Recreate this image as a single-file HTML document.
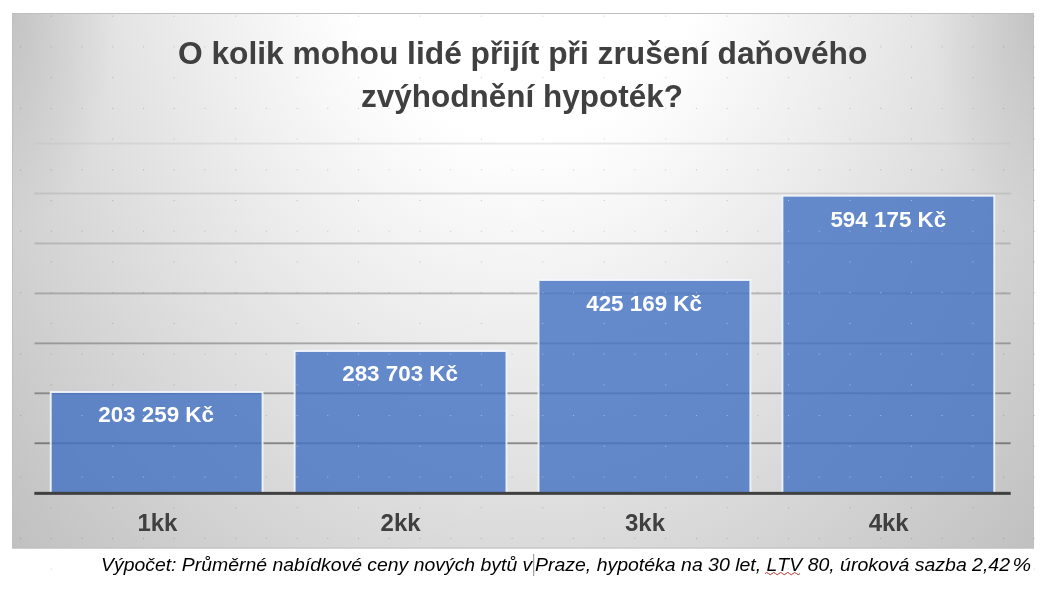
<!DOCTYPE html>
<html lang="cs">
<head>
<meta charset="utf-8">
<title>O kolik mohou lidé přijít při zrušení daňového zvýhodnění hypoték?</title>
<style>
  html, body { margin: 0; padding: 0; background: #ffffff; }
  body { width: 1042px; height: 592px; overflow: hidden; position: relative;
         font-family: "Liberation Sans", sans-serif; }
  svg { position: absolute; left: 0; top: 0; display: block; will-change: transform; }
  .title { font-family: "Liberation Sans", sans-serif; font-weight: bold; font-size: 30.5px; fill: #404040; }
  .dl    { font-family: "Liberation Sans", sans-serif; font-weight: bold; font-size: 22.4px; fill: #ffffff; }
  .cat   { font-family: "Liberation Sans", sans-serif; font-weight: bold; font-size: 24px; fill: #404040; }
  .cap   { font-family: "Liberation Sans", sans-serif; font-style: italic; font-size: 19.2px; fill: #000000; font-kerning: none; }
</style>
</head>
<body>
<svg width="1042" height="592" viewBox="0 0 1042 592">
  <defs>
    <radialGradient id="bg" gradientUnits="userSpaceOnUse" cx="0" cy="0" r="1"
        gradientTransform="translate(523 -129.7) scale(812.4 1105.3)">
      <stop offset="0" stop-color="#ffffff"/>
      <stop offset="0.242" stop-color="#ffffff"/>
      <stop offset="1" stop-color="#b4b4b4"/>
    </radialGradient>
    <radialGradient id="cornerL" gradientUnits="userSpaceOnUse" cx="0" cy="0" r="1"
        gradientTransform="translate(12 13) scale(105 215)">
      <stop offset="0" stop-color="#000000" stop-opacity="0.095"/>
      <stop offset="1" stop-color="#000000" stop-opacity="0"/>
    </radialGradient>
    <radialGradient id="cornerR" gradientUnits="userSpaceOnUse" cx="0" cy="0" r="1"
        gradientTransform="translate(1034 13) scale(105 215)">
      <stop offset="0" stop-color="#000000" stop-opacity="0.095"/>
      <stop offset="1" stop-color="#000000" stop-opacity="0"/>
    </radialGradient>
    <linearGradient id="gl" gradientUnits="userSpaceOnUse" x1="0" y1="143" x2="0" y2="444">
      <stop offset="0" stop-color="#bfbfbf" stop-opacity="0.36"/>
      <stop offset="1" stop-color="#0d0d0d" stop-opacity="0.42"/>
    </linearGradient>
  <pattern id="dotsDark" patternUnits="userSpaceOnUse" x="50.8" y="15.7" width="61.44" height="61.44">
      <rect x="0" y="0" width="1" height="1" fill="#000000" fill-opacity="0.2"/>
      <rect x="0" y="30.72" width="1" height="1" fill="#000000" fill-opacity="0.2"/>
      <rect x="30.72" y="30.72" width="1" height="1" fill="#000000" fill-opacity="0.2"/>
    </pattern>
    <pattern id="dotsLight" patternUnits="userSpaceOnUse" x="50.8" y="15.7" width="61.44" height="61.44">
      <rect x="0" y="0" width="1" height="1" fill="#dfeaff" fill-opacity="0.6"/>
      <rect x="0" y="30.72" width="1" height="1" fill="#dfeaff" fill-opacity="0.6"/>
      <rect x="30.72" y="30.72" width="1" height="1" fill="#dfeaff" fill-opacity="0.6"/>
    </pattern>
  </defs>

  <!-- chart area -->
  <rect x="12" y="13" width="1022" height="535.5" fill="url(#bg)"/>
  <rect x="12" y="13" width="105" height="215" fill="url(#cornerL)"/>
  <rect x="929" y="13" width="105" height="215" fill="url(#cornerR)"/>
  <rect x="12.5" y="13.5" width="1021" height="534.5" fill="none" stroke="#bfbfbf" stroke-width="1"/>

  <!-- editor grid dots (dark) -->
  <rect x="0" y="0" width="1042" height="592" fill="url(#dotsDark)"/>

  <!-- gridlines -->
  <g fill="url(#gl)">
    <rect x="34.5" y="142.60" width="976.2" height="1.9"/>
    <rect x="34.5" y="192.55" width="976.2" height="1.9"/>
    <rect x="34.5" y="242.50" width="976.2" height="1.9"/>
    <rect x="34.5" y="292.45" width="976.2" height="1.9"/>
    <rect x="34.5" y="342.40" width="976.2" height="1.9"/>
    <rect x="34.5" y="392.35" width="976.2" height="1.9"/>
    <rect x="34.5" y="442.30" width="976.2" height="1.9"/>
  </g>

  <!-- bars -->
  <g fill="#4472c4" fill-opacity="0.81" stroke="#f4f7fd" stroke-opacity="0.9" stroke-width="1.9">
    <rect x="50.75" y="392.05" width="211.80" height="101.25"/>
    <rect x="294.65" y="351.05" width="211.80" height="142.25"/>
    <rect x="538.55" y="280.05" width="211.80" height="213.25"/>
    <rect x="782.45" y="195.75" width="211.80" height="297.55"/>
  </g>

  <!-- editor grid dots (light, on bars) -->
  <g fill="url(#dotsLight)">
    <rect x="50.75" y="392.05" width="211.80" height="99.25"/>
    <rect x="294.65" y="351.05" width="211.80" height="140.25"/>
    <rect x="538.55" y="280.05" width="211.80" height="211.25"/>
    <rect x="782.45" y="195.75" width="211.80" height="295.55"/>
  </g>

  <!-- axis -->
  <rect x="34.3" y="491.85" width="976.4" height="3" fill="#404040"/>

  <!-- title -->
  <text class="title" x="522.65" y="64.2" text-anchor="middle" textLength="689.5" lengthAdjust="spacingAndGlyphs">O kolik mohou lidé přijít při zrušení daňového</text>
  <text class="title" x="522" y="107.3" text-anchor="middle" textLength="322" lengthAdjust="spacingAndGlyphs">zvýhodnění hypoték?</text>

  <!-- data labels -->
  <text class="dl" x="156.1" y="421.5" text-anchor="middle">203 259 Kč</text>
  <text class="dl" x="400.1" y="381.2" text-anchor="middle">283 703 Kč</text>
  <text class="dl" x="644.1" y="311.0" text-anchor="middle">425 169 Kč</text>
  <text class="dl" x="888.3" y="227.2" text-anchor="middle">594 175 Kč</text>

  <!-- category labels -->
  <text class="cat" x="157.4" y="530.9" text-anchor="middle">1kk</text>
  <text class="cat" x="400.6" y="530.9" text-anchor="middle">2kk</text>
  <text class="cat" x="645.0" y="530.9" text-anchor="middle">3kk</text>
  <text class="cat" x="888.7" y="530.9" text-anchor="middle">4kk</text>

  <!-- caption -->
  <text class="cap" x="101.0" y="570.8" xml:space="preserve" textLength="431.3" lengthAdjust="spacingAndGlyphs">Výpočet: Průměrné nabídkové ceny nových bytů v</text>
  <text class="cap" x="535.0" y="570.8" xml:space="preserve" textLength="475" lengthAdjust="spacingAndGlyphs">Praze, hypotéka na 30 let, LTV 80, úroková sazba 2,42</text>
  <text class="cap" x="1012.4" y="570.8" textLength="18.6" lengthAdjust="spacingAndGlyphs">%</text>
  <!-- spelling squiggle under LTV -->
  <path d="M765 573.6 q1.75 -2.3 3.5 0 t3.5 0 t3.5 0 t3.5 0 t3.5 0 t3.5 0 t3.5 0 t3.5 0 t3.5 0 t3.5 0" fill="none" stroke="#b8312f" stroke-width="1"/>
  <!-- text cursor -->
  <rect x="533.2" y="554" width="1" height="22" fill="#8c8c8c"/>
</svg>
</body>
</html>
